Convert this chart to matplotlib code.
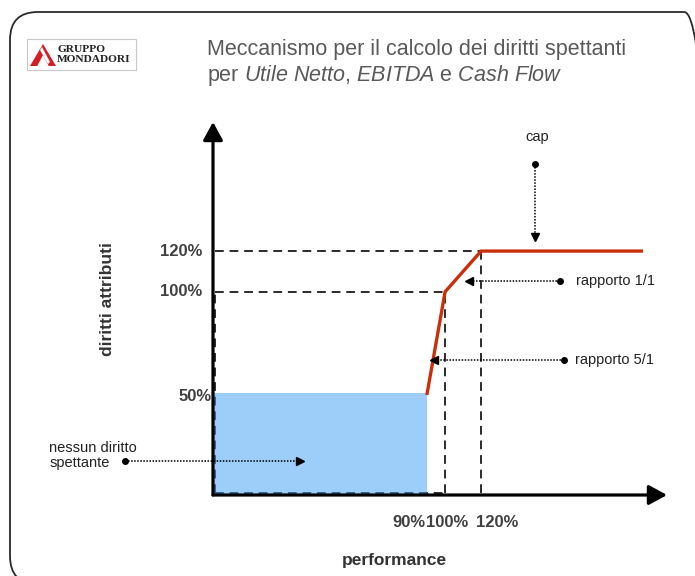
import matplotlib

matplotlib.use("Agg")
import matplotlib.pyplot as plt
from matplotlib.patches import FancyBboxPatch, Polygon, Rectangle

plt.rcParams["font.family"] = ["Liberation Sans", "DejaVu Sans"]
plt.rcParams["mathtext.fontset"] = "custom"
plt.rcParams["mathtext.rm"] = "Liberation Sans"
plt.rcParams["mathtext.it"] = "Liberation Sans:italic"

# payout curve: performance (%) -> rights granted (%)
perf_points = [90, 100, 120, 209]
rights_points = [50, 100, 120, 120]
# no-rights zone below the 90% threshold
floor_perf = 90
floor_rights = 50
# reference guides
guide_perf = [100, 120]
guide_rights = [100, 120]
y_labels = ["50%", "100%", "120%"]
y_label_values = [50, 100, 120]
x_labels = ["90%", "100%", "120%"]
x_label_values = [90, 100, 120]

W, H = 695, 576
RED = "#c8300c"
GRAY_TXT = "#404040"


def fx(px):
    return px / W


def fy(py):
    return 1 - py / H


fig = plt.figure(figsize=(W / 100, H / 100), dpi=100)
fig.patch.set_facecolor("white")

# slide frame
frame = FancyBboxPatch((fx(10), fy(584)), fx(712) - fx(10), fy(12) - fy(584),
                       boxstyle="round,pad=0,rounding_size=0.04",
                       transform=fig.transFigure, fill=False,
                       edgecolor="#2a2a2a", lw=1.3, mutation_aspect=W / H)
fig.patches.append(frame)

# logo
fig.patches.append(Rectangle((fx(27), fy(70)), fx(136) - fx(27), fy(39) - fy(70),
                             transform=fig.transFigure, fill=False,
                             edgecolor="#c8c8c8", lw=0.8))
fig.patches.append(Polygon([(fx(30), fy(66)), (fx(43), fy(44)), (fx(56), fy(66))],
                           closed=True, transform=fig.transFigure,
                           facecolor="#d21f26", edgecolor="none"))
fig.patches.append(Polygon([(fx(37), fy(66.5)), (fx(43), fy(55)), (fx(49), fy(66.5))],
                           closed=True, transform=fig.transFigure,
                           facecolor="white", edgecolor="none"))
fig.patches.append(Polygon([(fx(40), fy(50)), (fx(42), fy(47)), (fx(50), fy(62)), (fx(48), fy(64))],
                           closed=True, transform=fig.transFigure,
                           facecolor="white", edgecolor="none"))
fig.text(fx(57), fy(49.5), "GRUPPO", family="Liberation Serif", weight="bold",
         fontsize=8.2, color="#222222", va="center")
fig.text(fx(57), fy(59.5), "MONDADORI", family="Liberation Serif", weight="bold",
         fontsize=8.2, color="#222222", va="center")

# title
fig.text(fx(207), fy(50), "Meccanismo per il calcolo dei diritti spettanti",
         fontsize=15.5, color="#595959", va="center")
fig.text(fx(207), fy(75),
         r"per $\mathit{Utile\ Netto}$, $\mathit{EBITDA}$ e $\mathit{Cash\ Flow}$",
         fontsize=15.5, color="#595959", va="center")

ax = fig.add_axes([fx(213), fy(495), fx(667) - fx(213), fy(122) - fy(495)])
ax.set_xlim(-29, 223.3)
ax.set_ylim(0, 183.5)
ax.axis("off")
x0 = ax.get_xlim()[0]

# dashed guides
dash = dict(color="#2b2b2b", lw=1.4, ls=(0, (4.5, 3)), zorder=2)
for gp, gr in zip(guide_perf, guide_rights):
    ax.plot([x0 + 1.2, gp], [gr, gr], **dash)
    ax.plot([gp, gp], [0.8, gr], **dash)
ax.plot([x0 + 1.2, x0 + 1.2], [0.8, guide_rights[0]], **dash)
ax.plot([x0 + 1.2, guide_perf[0]], [0.8, 0.8], **dash)

# no-rights zone
ax.bar(x0, floor_rights, width=floor_perf - x0, align="edge",
       color="#3c9cf5", alpha=0.5, lw=0, zorder=3)

# payout curve
ax.plot(perf_points, rights_points, color=RED, lw=2.4, solid_joinstyle="miter", zorder=4)

# axes with arrow heads
head = dict(arrowstyle="-|>,head_length=0.55,head_width=0.3", color="black",
            lw=2.3, mutation_scale=20, shrinkA=0, shrinkB=0)
ax.annotate("", xy=(0, 1), xytext=(0, 0), xycoords="axes fraction",
            arrowprops=head, zorder=6, annotation_clip=False)
ax.annotate("", xy=(1, 0), xytext=(0, 0), xycoords="axes fraction",
            arrowprops=head, zorder=6, annotation_clip=False)

# value labels
for lab, v in zip(y_labels, y_label_values):
    if v == floor_rights:
        ax.annotate(lab, (x0, v), xytext=(-1, -2), textcoords="offset points",
                    ha="right", va="center", fontsize=12, weight="bold",
                    color=GRAY_TXT, annotation_clip=False)
    else:
        ax.annotate(lab, (x0, v), xytext=(-8, 0), textcoords="offset points",
                    ha="right", va="center", fontsize=12, weight="bold",
                    color=GRAY_TXT, annotation_clip=False)
x_offsets = [(-1, "right"), (1.5, "center"), (-3.5, "left")]
for lab, v, (off, ha) in zip(x_labels, x_label_values, x_offsets):
    ax.annotate(lab, (v, 0), xytext=(off, -20), textcoords="offset points",
                ha=ha, va="center", fontsize=12, weight="bold", color=GRAY_TXT,
                annotation_clip=False)

fig.text(fx(394), fy(561), "performance", ha="center", va="center",
         fontsize=12.5, weight="bold", color="#333333")
fig.text(fx(107), fy(299), "diritti attributi", ha="center", va="center",
         rotation=90, fontsize=12.5, weight="bold", color="#333333")

# dotted callouts
dot = dict(color="black", lw=1.1, ls=(0, (1, 1)), zorder=5, clip_on=False)


def callout(x_from, y_from, x_to, y_to, head_marker):
    ax.plot([x_from, x_to], [y_from, y_to], **dot)
    ax.plot(x_from, y_from, "o", color="black", ms=4, zorder=5, clip_on=False)
    ax.plot(x_to, y_to, head_marker, color="black", ms=5.5, zorder=5, clip_on=False)


callout(150, 162.8, 150, 127, "v")
ax.text(151, 176, "cap", ha="center", va="center", fontsize=10.5, color="#222222")
callout(164, 105.3, 113, 105.3, "<")
ax.text(172.8, 105.3, "rapporto 1/1", ha="left", va="center", fontsize=10.5, color="#222222")
callout(166, 66.4, 94, 66.4, "<")
ax.text(172, 66.4, "rapporto 5/1", ha="left", va="center", fontsize=10.5, color="#222222")
callout(-77.8, 16.7, 19.5, 16.7, ">")
ax.text(-120, 19.5, "nessun diritto\nspettante", ha="left", va="center",
        fontsize=10.5, color="#222222", linespacing=1.15, clip_on=False)

fig.savefig("out.png", dpi=100, facecolor="white")
